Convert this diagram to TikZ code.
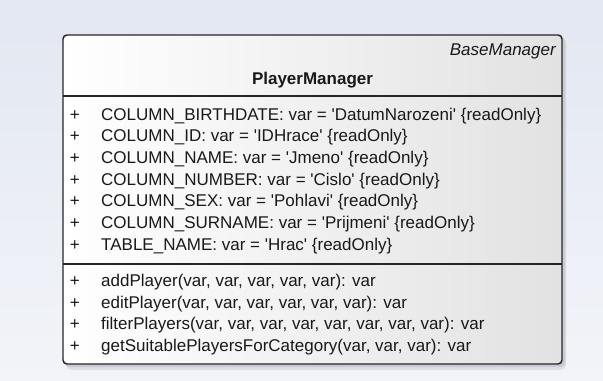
\documentclass[tikz,border=0pt]{standalone}
\usepackage{fontspec}
\setmainfont{Liberation Sans}
\usetikzlibrary{positioning}

\definecolor{bgtop}{RGB}{226,231,241}
\definecolor{bgbot}{RGB}{242,244,249}
\definecolor{boxedge}{RGB}{38,38,38}
\definecolor{boxright}{RGB}{226,226,226}
\definecolor{boxshadow}{RGB}{200,203,210}
\definecolor{txt}{RGB}{25,25,25}

\newcommand{\vis}{\makebox[23.6pt][l]{+}}
\newcommand{\sq}{\textquotesingle}

\begin{document}
\begin{tikzpicture}[x=0.75pt, y=-0.75pt,
  umlfont/.style={font=\fontsize{12.75}{15}\selectfont},
  member/.style={umlfont, anchor=base west, inner sep=0pt, text=txt},
  stereo/.style={umlfont, anchor=base east, inner sep=0pt, text=txt, font=\fontsize{12.75}{15}\selectfont\itshape},
  classname/.style={anchor=base, inner sep=0pt, text=txt, font=\fontsize{12.75}{15}\selectfont\bfseries},
  classbox/.style={draw=boxedge, line width=1.1pt, rounded corners=3pt,
    left color=white, right color=boxright},
  sepline/.style={draw=boxedge, line width=1pt}
]
  % background
  \shade[top color=bgtop, bottom color=bgbot] (0,0) rectangle (603,380);
  \useasboundingbox (0,0) rectangle (603,380);

  % class box
  \coordinate (boxnw) at (63,35);
  \coordinate (boxse) at (562,364);
  \fill[boxshadow, opacity=0.5, rounded corners=4pt] (66,38) rectangle (566,370);
  \fill[boxshadow, rounded corners=3pt] (65,37) rectangle (565,367);
  \path[classbox] (boxnw) rectangle (boxse);

  \coordinate (sepa) at (63,96);
  \coordinate (sepb) at (63,264);
  \draw[sepline] (sepa) -- (sepa -| boxse);
  \draw[sepline] (sepb) -- (sepb -| boxse);

  % header
  \node[stereo]    (base)   at (556,55) {BaseManager};
  \node[classname] (player) at (312.5,84) {PlayerManager};

  % attributes
  \node[member] (birthdate)  at (69.5,120)   {\vis COLUMN\_BIRTHDATE: var = \sq DatumNarozeni\sq\ \{readOnly\}};
  \node[member] (colid)      at (69.5,141.7) {\vis COLUMN\_ID: var = \sq IDHrace\sq\ \{readOnly\}};
  \node[member] (colname)    at (69.5,163.3) {\vis COLUMN\_NAME: var = \sq Jmeno\sq\ \{readOnly\}};
  \node[member] (colnumber)  at (69.5,185)   {\vis COLUMN\_NUMBER: var = \sq Cislo\sq\ \{readOnly\}};
  \node[member] (colsex)     at (69.5,206.7) {\vis COLUMN\_SEX: var = \sq Pohlavi\sq\ \{readOnly\}};
  \node[member] (colsurname) at (69.5,228.3) {\vis COLUMN\_SURNAME: var = \sq Prijmeni\sq\ \{readOnly\}};
  \node[member] (tablename)  at (69.5,250)   {\vis TABLE\_NAME: var = \sq Hrac\sq\ \{readOnly\}};

  % operations
  \node[member] (addplayer)     at (69.5,286.7) {\vis addPlayer(var, var, var, var, var): var};
  \node[member] (editplayer)    at (69.5,308.1) {\vis editPlayer(var, var, var, var, var, var): var};
  \node[member] (filterplayers) at (69.5,329.5) {\vis filterPlayers(var, var, var, var, var, var, var, var): var};
  \node[member] (getsuitable)   at (69.5,351)   {\vis getSuitablePlayersForCategory(var, var, var): var};
\end{tikzpicture}
\end{document}
